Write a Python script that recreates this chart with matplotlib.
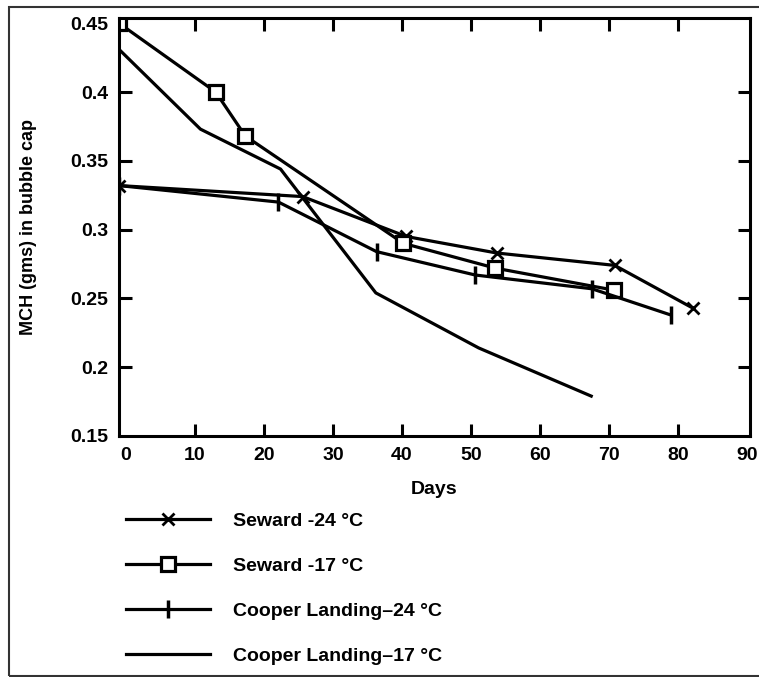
import matplotlib
matplotlib.use("Agg")
import matplotlib.pyplot as plt
from matplotlib.patches import Rectangle

plt.rcParams['font.family'] = ['Liberation Sans', 'DejaVu Sans']
plt.rcParams['font.weight'] = 'bold'

# days / MCH readings
seward24_x = [-1, 25.6, 40.6, 53.7, 70.8, 82.1]
seward24_y = [0.332, 0.324, 0.295, 0.283, 0.274, 0.243]

seward17_x = [-1, 13.0, 17.3, 40.2, 53.5, 70.7]
seward17_y = [0.450, 0.400, 0.368, 0.290, 0.272, 0.256]

cooper24_x = [-1, 22.1, 36.3, 50.6, 67.5, 78.9]
cooper24_y = [0.332, 0.320, 0.284, 0.267, 0.257, 0.238]

cooper17_x = [-1, 10.8, 22.4, 36.2, 51.1, 67.4]
cooper17_y = [0.431, 0.373, 0.344, 0.254, 0.214, 0.179]

labels = ['Seward -24 \u00b0C', 'Seward -17 \u00b0C',
          'Cooper Landing\u201324 \u00b0C', 'Cooper Landing\u201317 \u00b0C']

xticks = [0, 10, 20, 30, 40, 50, 60, 70, 80, 90]
yticks = [0.15, 0.2, 0.25, 0.3, 0.35, 0.4, 0.45]
ytick_labels = ['0.15', '0.2', '0.25', '0.3', '0.35', '0.4', '0.45']

fig = plt.figure(figsize=(7.59, 6.77), dpi=100)
ax = fig.add_axes([119/759, 1-436/677, (750-119)/759, (436-17.7)/677])

lw = 2.3
ax.plot(seward24_x, seward24_y, color='black', lw=lw, marker='x', ms=8, mew=2,
        label=labels[0])
ax.plot(seward17_x, seward17_y, color='black', lw=lw, marker='s', ms=10, mew=2.3,
        mfc='white', label=labels[1])
ax.plot(cooper24_x, cooper24_y, color='black', lw=lw, marker='|', ms=13, mew=2.5,
        label=labels[2])
ax.plot(cooper17_x, cooper17_y, color='black', lw=lw, label=labels[3])

ax.set_xlim(-1, 90.4)
ax.set_ylim(0.15, 0.454)
ax.set_xticks(xticks)
ax.set_yticks(yticks)
ax.set_yticklabels(ytick_labels)
ax.tick_params(direction='in', length=9, width=2.2, top=True, right=True,
               labelsize=14, pad=8)
for s in ax.spines.values():
    s.set_linewidth(2.2)

# no tick marks at the axis ends
for t in [ax.xaxis.get_major_ticks()[0], ax.xaxis.get_major_ticks()[-1],
          ax.yaxis.get_major_ticks()[0], ax.yaxis.get_major_ticks()[-1]]:
    t.tick1line.set_visible(False)
    t.tick2line.set_visible(False)

ax.set_xlabel('Days', fontsize=14, fontweight='bold', labelpad=12)
ax.set_ylabel('MCH (gms) in bubble cap', fontsize=13, fontweight='bold', labelpad=24)

fig.legend(loc='upper left', bbox_to_anchor=(126/759, 1-512/677), frameon=False,
           borderpad=0, borderaxespad=0, numpoints=1, handlelength=4.3,
           handletextpad=1.2, labelspacing=1.42,
           prop={'size': 14, 'weight': 'bold'})

fig.patches.append(Rectangle((9/759, 1-676/677), 1.0, (676-7)/677,
                             transform=fig.transFigure, fill=False,
                             ec='#333333', lw=1.5))

fig.savefig('out.png', dpi=100)
